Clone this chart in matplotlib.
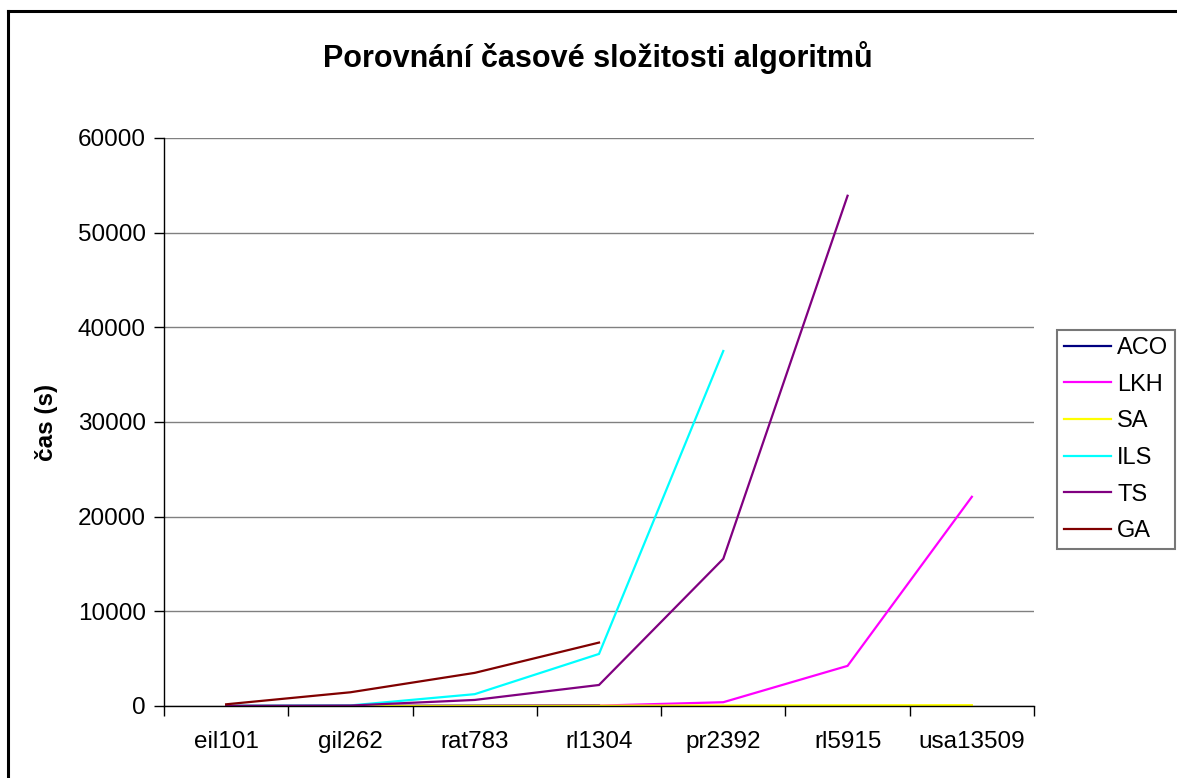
import matplotlib
matplotlib.use("Agg")
import matplotlib.pyplot as plt
from matplotlib.lines import Line2D
import numpy as np

plt.rcParams['font.family'] = ['Liberation Sans', 'DejaVu Sans']

categories = ["eil101", "gil262", "rat783", "rl1304", "pr2392", "rl5915", "usa13509"]
aco = [5, 15, 40, 80, None, None, None]
lkh = [1, 3, 10, 40, 400, 4240, 22100]
sa = [2, 5, 15, 30, 50, 70, 90]
ils = [20, 60, 1250, 5500, 37500, None, None]
ts = [10, 50, 640, 2220, 15550, 53900, None]
ga = [180, 1450, 3500, 6700, None, None, None]

series_names = ["ACO", "LKH", "SA", "ILS", "TS", "GA"]
series_values = [aco, lkh, sa, ils, ts, ga]
colors = ["#000080", "#FF00FF", "#FFFF00", "#00FFFF", "#800080", "#800000"]

W, H = 1177, 778
fig = plt.figure(figsize=(W / 100, H / 100), dpi=100)
ax = fig.add_axes([164 / W, 1 - 706 / H, (1034 - 164) / W, (706 - 138) / H])

FS = 17.5
x = np.arange(len(categories))
handles = []
for name, vals, c in zip(series_names, series_values, colors):
    y = np.array([np.nan if v is None else v for v in vals], dtype=float)
    ax.plot(x, y, color=c, lw=1.6, solid_joinstyle='miter')
    handles.append(Line2D([0], [0], color=c, lw=1.6))

ax.set_xlim(-0.5, len(categories) - 0.5)
ax.set_ylim(0, 60000)
ax.set_yticks(np.arange(0, 60001, 10000))
ax.yaxis.grid(True, color="#808080", lw=1.0)
ax.set_axisbelow(True)

ax.set_xticks(np.arange(-0.5, len(categories), 1.0))
ax.set_xticklabels([])
ax.set_xticks(x, minor=True)
ax.set_xticklabels(categories, minor=True, fontsize=FS)
ax.tick_params(axis='x', which='major', length=7, width=1, direction='out')
ax.tick_params(axis='x', which='minor', length=0, pad=18)
ax.tick_params(axis='y', length=7, width=1, direction='out', labelsize=FS, pad=6)

for s in ['top', 'right']:
    ax.spines[s].set_visible(False)
for s in ['left', 'bottom']:
    ax.spines[s].set_color('black')
    ax.spines[s].set_linewidth(1.0)

ax.set_ylabel("čas (s)", fontsize=FS, fontweight='bold')
ax.yaxis.set_label_coords((58 - 164) / 870, 0.5)

fig.text(598 / W, 1 - 58 / H, "Porovnání časové složitosti algoritmů",
         ha='center', va='center', fontsize=22, fontweight='bold')

leg = fig.legend(handles, series_names, loc='upper left',
                 bbox_to_anchor=(1057 / W, 1 - 330 / H),
                 fontsize=17, frameon=True, fancybox=False,
                 handlelength=2.0, handletextpad=0.25, labelspacing=0.62,
                 borderpad=0.3, borderaxespad=0)
leg.get_frame().set_edgecolor('#555555')
leg.get_frame().set_linewidth(1.5)

# outer chart border (left and top visible)
fig.add_artist(Line2D([7.5 / W, 7.5 / W], [0, 1 - 11 / H], transform=fig.transFigure,
                      color='black', lw=2.2))
fig.add_artist(Line2D([7.5 / W, 1], [1 - 11 / H, 1 - 11 / H], transform=fig.transFigure,
                      color='black', lw=2.2))

fig.savefig("out.png", dpi=100)
